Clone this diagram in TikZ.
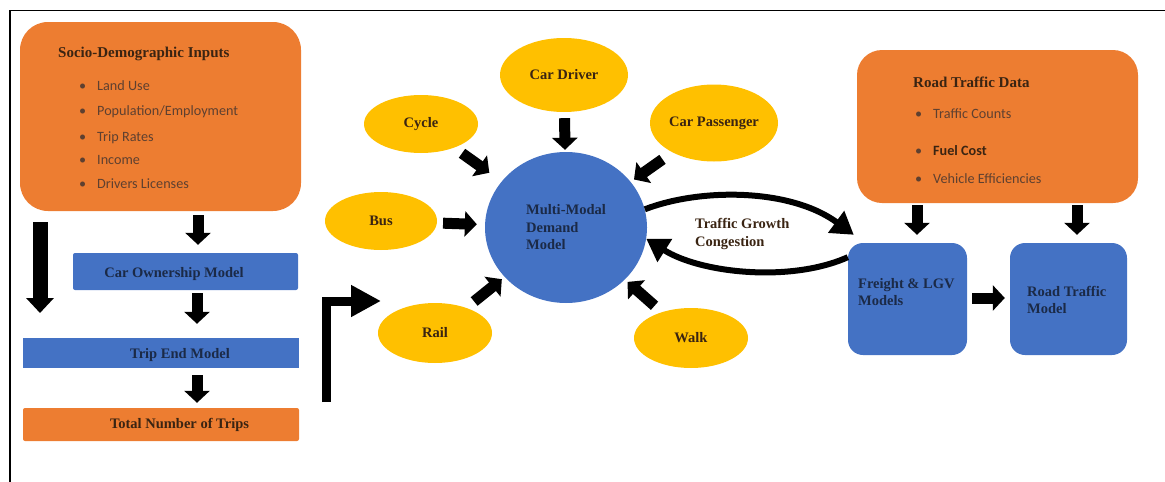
\documentclass[tikz,border=0pt]{standalone}
\usepackage{fontspec}
\setmainfont{Liberation Serif}
\newfontfamily\calibri{Carlito}
\usetikzlibrary{arrows.meta,shapes.geometric,calc}
\definecolor{orng}{HTML}{ED7D31}
\definecolor{blu}{HTML}{4472C4}
\definecolor{yel}{HTML}{FFC000}
\definecolor{navy}{HTML}{1B2A47}
\definecolor{brn}{HTML}{3A2412}
\definecolor{bul}{HTML}{5E4030}
\begin{document}
\begin{tikzpicture}[x=1pt,y=-1pt,
  obox/.style={fill=orng, draw=none, inner sep=0},
  bbox/.style={fill=blu, draw=none, inner sep=0},
  yell/.style={ellipse, fill=yel, draw=none, inner sep=0, font=\bfseries\fontsize{14.5}{17}\selectfont, text=brn},
  ttl/.style={font=\bfseries\fontsize{15}{17}\selectfont, text=brn, inner sep=0, anchor=base west},
  btxt/.style={font=\bfseries\fontsize{14.5}{17.5}\selectfont, text=navy, inner sep=0},
  item/.style={font=\calibri\fontsize{14.2}{16}\selectfont, text=bul, inner sep=0, anchor=base west},
  blk/.style={line width=11pt, -{Triangle[length=12pt,width=25pt]}},
  curv/.style={line width=6pt, -{Triangle[length=22pt,width=26pt]}},
]
\useasboundingbox (0,0) rectangle (1165,482);
\draw[line width=1.6pt] (10,482) -- (10,10.5) -- (1165,10.5);

% ---------- left column ----------
\node[obox, rounded corners=28pt, minimum width=281pt, minimum height=189pt] (socio) at (160.5,116.5) {};
\node[ttl] (socioT) at (58,57) {Socio-Demographic Inputs};
\node[item] (sb1) at (79,90) {•};
\node[item] (s1) at (97,90) {Land Use};
\node[item] (sb2) at (79,115) {•};
\node[item] (s2) at (97,115) {Population/Employment};
\node[item] (sb3) at (79,141) {•};
\node[item] (s3) at (97,141) {Trip Rates};
\node[item] (sb4) at (79,164) {•};
\node[item] (s4) at (97,164) {Income};
\node[item] (sb5) at (79,188) {•};
\node[item] (s5) at (97,188) {Drivers Licenses};

\node[bbox, rounded corners=2pt, minimum width=225pt, minimum height=37pt] (carown) at (185.5,271.5) {};
\node[btxt, anchor=base] (carownT) at (174,277) {Car Ownership Model};
\node[bbox, minimum width=276pt, minimum height=30pt] (tripend) at (161,353) {};
\node[btxt, anchor=base] (tripendT) at (180,358) {Trip End Model};
\node[obox, rounded corners=2pt, minimum width=276pt, minimum height=33pt] (total) at (161,424.5) {};
\node[btxt, text=brn, anchor=base] (totalT) at (179.5,428.5) {Total Number of Trips};

\coordinate (lx) at (40,0);
\coordinate (lend) at (40,313);
\draw[line width=15pt, -{Triangle[length=15pt,width=27pt]}, shorten <=11pt] (socio.south -| lx) -- (lend);
\coordinate (ax1) at (198,0);
\draw[blk, shorten <=4pt, shorten >=8pt] (socio.south -| ax1) -- (carown.north -| ax1);
\coordinate (ax2) at (197,0);
\draw[blk, shorten <=3pt, shorten >=14pt] (carown.south -| ax2) -- (tripend.north -| ax2);
\draw[blk, shorten <=7pt, shorten >=5pt] (tripend.south -| ax2) -- (total.north -| ax2);

\coordinate (e0) at (326,402);
\coordinate (e1) at (381,301);
\draw[line width=9pt, line join=miter, -{Triangle[length=30pt,width=30pt]}] (e0) -- (e0 |- e1) -- (e1);

% ---------- centre ----------
\node[ellipse, fill=blu, draw=none, inner sep=0, minimum width=162pt, minimum height=151pt, align=left, btxt] (mm) at (566,227.5) {Multi-Modal\\Demand\\Model};

\node[yell, minimum width=128pt, minimum height=74pt] (cardriver) at (564,75) {Car Driver};
\node[yell, minimum width=114pt, minimum height=58pt] (cycle) at (421,124) {Cycle};
\node[yell, minimum width=128pt, minimum height=77pt] (carpass) at (714,123) {Car Passenger};
\node[yell, minimum width=112pt, minimum height=58pt] (bus) at (381,221) {Bus};
\node[yell, minimum width=114pt, minimum height=60pt] (rail) at (435,333) {Rail};
\node[yell, minimum width=114pt, minimum height=60pt] (walk) at (691,338) {Walk};

\draw[blk, shorten <=6pt, shorten >=2pt] (cardriver) -- (mm);
\draw[blk, shorten <=9.5pt, shorten >=15pt] (cycle) -- (mm);
\draw[blk, shorten <=12pt, shorten >=4pt] (carpass) -- (mm);
\draw[blk, shorten <=6pt, shorten >=8pt] (bus) -- (mm);
\draw[blk, shorten <=10pt, shorten >=3.5pt] (rail) -- (mm);
\draw[blk, shorten <=9.5pt, shorten >=3.5pt] (walk) -- (mm);

% ---------- right side ----------
\node[obox, rounded corners=25pt, minimum width=281pt, minimum height=153pt] (rtd) at (997.5,126.5) {};
\node[ttl] (rtdT) at (913,87) {Road Traffic Data};
\node[item] (rb1) at (915,118) {•};
\node[item] (r1) at (933,118) {Traffic Counts};
\node[item] (rb2) at (915,155) {•};
\node[item, font=\calibri\bfseries\fontsize{14.2}{16}\selectfont, text=brn] (r2) at (933,155) {Fuel Cost};
\node[item] (rb3) at (915,183) {•};
\node[item] (r3) at (933,183) {Vehicle Efficiencies};

\node[bbox, rounded corners=15pt, minimum width=119pt, minimum height=112pt] (freight) at (907.5,299) {};
\node[btxt, align=left, anchor=west] (freightT) at (858,292) {Freight \& LGV\\Models};
\node[bbox, rounded corners=15pt, minimum width=117pt, minimum height=112pt] (rtm) at (1068.5,299) {};
\node[btxt, align=left, anchor=west] (rtmT) at (1027,300) {Road Traffic\\Model};

\coordinate (ax3) at (917,0);
\coordinate (ax4) at (1077,0);
\coordinate (ay) at (0,298);
\draw[blk, shorten <=2pt, shorten >=8pt] (rtd.south -| ax3) -- (freight.north -| ax3);
\draw[blk, shorten <=2pt, shorten >=8pt] (rtd.south -| ax4) -- (rtm.north -| ax4);
\draw[blk, shorten <=5pt, shorten >=5pt] (freight.east |- ay) -- (rtm.west |- ay);

\draw[curv] (mm.13) .. controls (700,188) and (790,188) .. ($(freight.north west)+(6,-8)$);
\draw[curv] (freight.145) .. controls (790,283) and (700,273) .. (mm.-8);
\node[btxt, text=brn, align=left, anchor=west] (tg) at (695,234) {Traffic Growth\\Congestion};
\end{tikzpicture}
\end{document}
